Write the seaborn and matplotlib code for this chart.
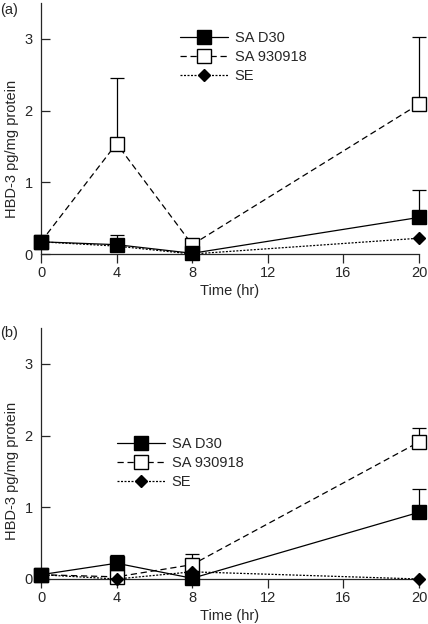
import numpy as np
import pandas as pd
import matplotlib
matplotlib.use("Agg")
import matplotlib.pyplot as plt
import seaborn as sns

sns.set_style("ticks")
plt.rcParams['font.family'] = ['Liberation Sans', 'DejaVu Sans']

times = [0, 4, 8, 20]
series_names = ["SA D30", "SA 930918", "SE"]

# Panel (a)
a_d30 = [0.17, 0.13, 0.01, 0.51]
a_d30_err = [0.0, 0.13, 0.0, 0.38]
a_930918 = [0.17, 1.54, 0.13, 2.09]
a_930918_err = [0.0, 0.91, 0.0, 0.94]
a_se = [0.17, 0.11, 0.0, 0.22]
a_se_err = [0.0, 0.0, 0.0, 0.0]

# Panel (b)
b_d30 = [0.06, 0.22, 0.01, 0.93]
b_d30_err = [0.0, 0.12, 0.0, 0.33]
b_930918 = [0.06, 0.03, 0.20, 1.91]
b_930918_err = [0.0, 0.0, 0.15, 0.19]
b_se = [0.06, 0.0, 0.10, 0.0]
b_se_err = [0.0, 0.0, 0.0, 0.0]

xticks = [0, 4, 8, 12, 16, 20]
yticks = [0, 1, 2, 3]
xlabel = "Time (hr)"
ylabel = "HBD-3 pg/mg protein"
panel_labels = ["(a)", "(b)"]

W, H = 428, 624
fig = plt.figure(figsize=(W / 100, H / 100), dpi=100)

styles = [
    dict(marker='s', linestyle='-', markerfacecolor='black', markersize=9.5),
    dict(marker='s', linestyle=(0, (5, 3)), markerfacecolor='white', markersize=9.5),
    dict(marker='D', linestyle=(0, (1.6, 1.2)), markerfacecolor='black', markersize=6.5),
]
zorders = [5, 3, 4]

def px_axes(left, top, right, bottom):
    return [left / W, 1 - bottom / H, (right - left) / W, (bottom - top) / H]

panels = [
    dict(rect=px_axes(41, 3, 419, 254),
         data=[(a_d30, a_d30_err), (a_930918, a_930918_err), (a_se, a_se_err)],
         leg=(0.368, 0.89), ylab_y=0.42, label_y=10),
    dict(rect=px_axes(41, 328, 419, 579),
         data=[(b_d30, b_d30_err), (b_930918, b_930918_err), (b_se, b_se_err)],
         leg=(0.201, 0.565), ylab_y=0.43, label_y=333),
]

for p, plab in zip(panels, panel_labels):
    ax = fig.add_axes(p['rect'])
    handles = []
    for name, (vals, errs), st, z in zip(series_names, p['data'], styles, zorders):
        df = pd.DataFrame({'t': times, 'v': vals})
        sns.lineplot(data=df, x='t', y='v', ax=ax, color='black', linewidth=0.9,
                     markeredgecolor='black', markeredgewidth=1.0, clip_on=False,
                     zorder=z, **st)
        handles.append(ax.lines[-1])
        idx = [i for i, e in enumerate(errs) if e > 0]
        if idx:
            ax.errorbar([times[i] for i in idx], [vals[i] for i in idx],
                        yerr=[[0] * len(idx), [errs[i] for i in idx]],
                        fmt='none', ecolor='black', elinewidth=0.9, capsize=5,
                        capthick=0.9, zorder=2, clip_on=False)
    ax.set_xlim(0, 20)
    ax.set_ylim(0, 3.5)
    ax.set_xticks(xticks)
    ax.set_yticks(yticks)
    ax.tick_params(axis='x', direction='out', length=6.5, width=0.9, labelsize=10.5, pad=2)
    ax.tick_params(axis='y', direction='in', length=6.5, width=0.9, labelsize=10.5, pad=6)
    for s in ['top', 'right']:
        ax.spines[s].set_visible(False)
    for s in ['left', 'bottom']:
        ax.spines[s].set_linewidth(0.9)
    ax.set_xlabel(xlabel, fontsize=10.5, labelpad=3)
    ax.set_ylabel(ylabel, fontsize=10.5, labelpad=4)
    ax.yaxis.set_label_coords(-0.058, p['ylab_y'])
    leg = ax.legend(handles, series_names, loc='upper left', bbox_to_anchor=p['leg'],
                    frameon=False, fontsize=10.5, handlelength=3.3, handletextpad=0.45,
                    labelspacing=0.35, borderpad=0, borderaxespad=0)
    fig.text(0.5 / W, 1 - p['label_y'] / H, plab, fontsize=10.5, ha='left', va='center')

fig.savefig("out.png", dpi=100)
